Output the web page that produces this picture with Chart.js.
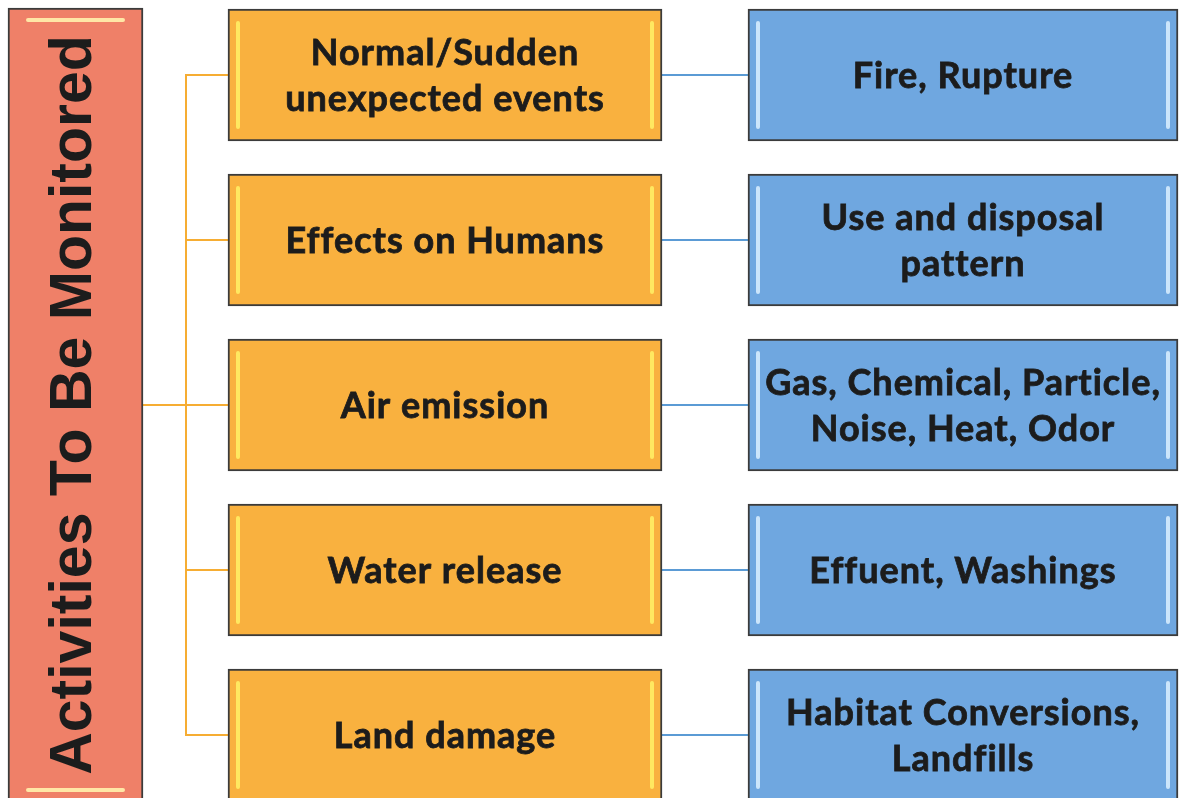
<!DOCTYPE html>
<html>
<head>
<meta charset="utf-8">
<script src="https://cdn.jsdelivr.net/npm/chart.js@4/dist/chart.umd.min.js"></script>
<style>
  html, body { margin: 0; padding: 0; background: #ffffff; }
  #wrap { width: 1179px; height: 798px; }
</style>
</head>
<body>
<div id="wrap"><canvas id="flowChart" width="1179" height="798"></canvas></div>
<script>
// diagram content
const headTitle = "Activities To Be Monitored";
const activities = [
    ["Normal/Sudden", "unexpected events"],
    ["Effects on Humans"],
    ["Air emission"],
    ["Water release"],
    ["Land damage"]
];
const impacts = [
    ["Fire, Rupture"],
    ["Use and disposal", "pattern"],
    ["Gas, Chemical, Particle,", "Noise, Heat, Odor"],
    ["Effuent, Washings"],
    ["Habitat Conversions,", "Landfills"]
];

// column spans on the x scale
const headSpan = [8, 143];
const activitySpan = [228, 662];
const impactSpan = [748, 1178];
const trunkX = 186;

const rowIdx = activities.map((_, i) => i);
const midRow = 2;

// orange bracket path: trunk + branch to every activity box
const bracket = [];
rowIdx.forEach(i => {
    bracket.push({ x: trunkX, y: i });
    if (i === midRow) bracket.push({ x: headSpan[1], y: i });
    bracket.push({ x: activitySpan[0], y: i });
    bracket.push({ x: trunkX, y: i });
});

const linkSets = rowIdx.map(i => ({
    type: "line",
    data: [{ x: activitySpan[1], y: i }, { x: impactSpan[0], y: i }],
    borderColor: "#5b9bd5",
    borderWidth: 2,
    pointRadius: 0,
    order: 5
}));

const boxText = {
    id: "boxText",
    afterDatasetsDraw(chart) {
        const c = chart.ctx;
        chart.data.datasets.forEach((ds, di) => {
            if (!ds.texts) return;
            const meta = chart.getDatasetMeta(di);
            meta.data.forEach((el, i) => {
                const p = el.getProps(["x", "y", "base", "height"], true);
                const left = Math.min(p.x, p.base), right = Math.max(p.x, p.base);
                const top = p.y - p.height / 2, bottom = Math.min(p.y + p.height / 2, 802);
                const cx = (left + right) / 2;

                // glossy highlight strokes
                c.save();
                c.strokeStyle = ds.shine;
                c.lineWidth = 4;
                c.lineCap = "round";
                c.beginPath();
                if (ds.vertical) {
                    c.moveTo(left + 20, top + 12); c.lineTo(right - 20, top + 12);
                    c.moveTo(left + 20, bottom - 12); c.lineTo(right - 20, bottom - 12);
                } else {
                    c.moveTo(left + 10, top + 14); c.lineTo(left + 10, bottom - 14);
                    c.moveTo(right - 10, top + 14); c.lineTo(right - 10, bottom - 14);
                }
                c.stroke();
                c.restore();

                c.save();
                c.fillStyle = "#1c1c1c";
                c.strokeStyle = "#1c1c1c";
                c.lineWidth = 0.8;
                c.textAlign = "center";
                c.textBaseline = "middle";
                if (ds.vertical) {
                    c.font = "bold 59px 'Liberation Sans'";
                    c.translate(cx - 1, 405);
                    c.rotate(-Math.PI / 2);
                    c.fillText(ds.texts[i][0], 0, 0);
                } else {
                    const lines = ds.texts[i];
                    const lh = 46;
                    c.font = "bold 36px Lato";
                    c.letterSpacing = "1px";
                    lines.forEach((t, k) => {
                        const ty = p.y + 1 + (k - (lines.length - 1) / 2) * lh;
                        c.fillText(t, cx, ty);
                        c.strokeText(t, cx, ty);
                    });
                }
                c.restore();
            });
        });
    }
};

new Chart(document.getElementById("flowChart"), {
    type: "bar",
    data: {
        datasets: [
            {
                data: [{ y: midRow, x: headSpan }],
                texts: [[headTitle]],
                vertical: true,
                backgroundColor: "#ef8068",
                shine: "rgba(255,236,170,0.95)",
                borderColor: "#3b3b3b",
                borderWidth: 2,
                borderSkipped: false,
                barThickness: 794,
                grouped: false,
                order: 1
            },
            {
                data: rowIdx.map(i => ({ y: i, x: activitySpan })),
                texts: activities,
                backgroundColor: "#f9b13f",
                shine: "rgba(255,238,100,0.9)",
                borderColor: "#3b3b3b",
                borderWidth: 2,
                borderSkipped: false,
                barThickness: 132,
                grouped: false,
                order: 1
            },
            {
                data: rowIdx.map(i => ({ y: i, x: impactSpan })),
                texts: impacts,
                backgroundColor: "#6fa7e0",
                shine: "rgba(220,240,255,0.85)",
                borderColor: "#3b3b3b",
                borderWidth: 2,
                borderSkipped: false,
                barThickness: 132,
                grouped: false,
                order: 1
            },
            {
                type: "line",
                data: bracket,
                borderColor: "#f6ad33",
                borderWidth: 2,
                pointRadius: 0,
                order: 5
            },
            ...linkSets
        ]
    },
    options: {
        indexAxis: "y",
        responsive: false,
        animation: false,
        layout: { padding: 0 },
        plugins: {
            legend: { display: false },
            tooltip: { enabled: false }
        },
        scales: {
            x: { type: "linear", min: 0, max: 1179, offset: false, display: false },
            y: { type: "linear", min: -75 / 165, max: 4 + 63 / 165, reverse: true, offset: false, display: false }
        }
    },
    plugins: [boxText]
});
</script>
</body>
</html>
